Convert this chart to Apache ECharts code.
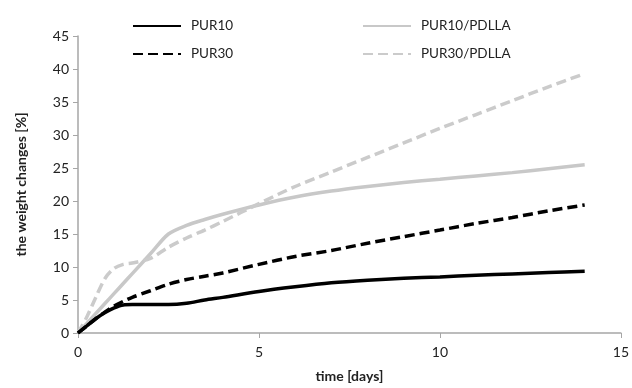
<!DOCTYPE html>
<html>
<head>
<meta charset="utf-8">
<script src="https://cdn.jsdelivr.net/npm/echarts@6/dist/echarts.min.js"></script>
<style>
html,body{margin:0;padding:0;background:#fff;}
#main{width:632px;height:388px;}
</style>
</head>
<body>
<div id="main"></div>
<script>
var days = [0, 0.25, 0.5, 0.75, 1, 1.25, 1.5, 2, 2.5, 3, 3.5, 4, 5, 6, 7, 8, 9, 10, 11, 12, 13, 14];
var pur10 = [0, 1.1, 2.2, 3.1, 3.8, 4.25, 4.3, 4.3, 4.3, 4.5, 5.0, 5.4, 6.3, 7.0, 7.6, 8.0, 8.3, 8.5, 8.75, 8.95, 9.15, 9.35];
var pur30 = [0, 1.1, 2.2, 3.2, 4.1, 4.8, 5.4, 6.4, 7.4, 8.1, 8.6, 9.1, 10.4, 11.6, 12.5, 13.6, 14.6, 15.6, 16.6, 17.5, 18.5, 19.4];
var pur10Pdlla = [0, 1.5, 3, 4.5, 6, 7.5, 9, 12, 15, 16.3, 17.2, 18.0, 19.4, 20.6, 21.5, 22.2, 22.8, 23.3, 23.8, 24.3, 24.9, 25.5];
var pur30Pdlla = [0, 2.5, 5.5, 8.3, 9.8, 10.4, 10.6, 11.3, 13, 14.4, 15.6, 16.9, 19.6, 22.2, 24.4, 26.6, 28.8, 31, 33.1, 35.2, 37.3, 39.3];
var seriesNames = ['PUR10', 'PUR30', 'PUR10/PDLLA', 'PUR30/PDLLA'];

function pairs(ys){
    return days.map(function(d, i){ return [d, ys[i]]; });
}
function line(name, ys, color, dashed){
    return {
        name: name,
        type: 'line',
        data: pairs(ys),
        symbol: 'none',
        smooth: 0.3,
        lineStyle: { color: color, width: 3.5, type: dashed ? [10, 5] : 'solid' },
        itemStyle: { color: color }
    };
}

var chart = echarts.init(document.getElementById('main'));
var font = 'Lato';
var legendBase = {
    orient: 'vertical',
    top: 14,
    itemWidth: 48, itemHeight: 14, itemGap: 14,
    itemStyle: { opacity: 0 },
    textStyle: { fontSize: 13.5, color: '#222', fontFamily: font, padding: [0, 0, 0, 5] }
};
var option = {
    animation: false,
    textStyle: { fontFamily: font },
    legend: [
        Object.assign({ data: ['PUR10', 'PUR30'], left: 127 }, legendBase),
        Object.assign({ data: ['PUR10/PDLLA', 'PUR30/PDLLA'], left: 357 }, legendBase)
    ],
    grid: { left: 78, right: 10, top: 36, bottom: 54 },
    xAxis: {
        type: 'value',
        min: 0, max: 15, interval: 5,
        name: 'time [days]',
        nameLocation: 'middle',
        nameGap: 36,
        nameTextStyle: { fontSize: 14, fontWeight: 'bold', color: '#222', fontFamily: font },
        axisLine: { lineStyle: { color: '#a6a6a6', width: 1.5 } },
        axisTick: { show: true, length: 5, lineStyle: { color: '#a6a6a6' } },
        axisLabel: { fontSize: 14, color: '#222', margin: 12 },
        splitLine: { show: false }
    },
    yAxis: {
        type: 'value',
        min: 0, max: 45, interval: 5,
        name: 'the weight changes [%]',
        nameLocation: 'middle',
        nameGap: 50,
        nameTextStyle: { fontSize: 14, fontWeight: 'bold', color: '#222', fontFamily: font },
        axisLine: { show: true, lineStyle: { color: '#a6a6a6', width: 1.5 } },
        axisTick: { show: true, length: 5, lineStyle: { color: '#a6a6a6' } },
        axisLabel: { fontSize: 14, color: '#222', margin: 9 },
        splitLine: { show: false }
    },
    series: [
        line(seriesNames[2], pur10Pdlla, '#c8c8c8', false),
        line(seriesNames[3], pur30Pdlla, '#cbcbcb', true),
        line(seriesNames[0], pur10, '#000000', false),
        line(seriesNames[1], pur30, '#000000', true)
    ]
};
chart.setOption(option);
</script>
</body>
</html>
